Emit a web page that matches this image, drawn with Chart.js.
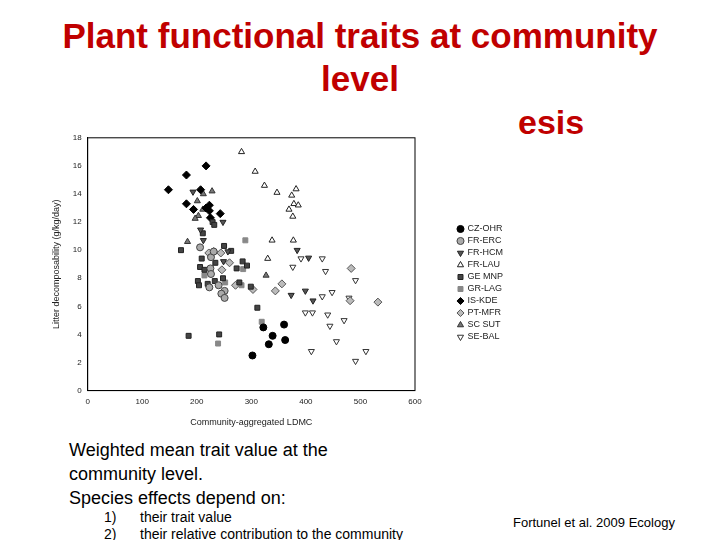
<!DOCTYPE html>
<html><head><meta charset="utf-8">
<script src="https://cdn.jsdelivr.net/npm/chart.js@4"></script>
<style>
body{margin:0;width:720px;height:540px;background:#fff;font-family:"Liberation Sans",Arial,sans-serif;position:relative;overflow:hidden}
#t{position:absolute;top:14px;left:0;width:720px;text-align:center;color:#c00000;font-weight:bold;font-size:35px;line-height:43px}
#esis{position:absolute;left:518px;top:103px;color:#c00000;font-weight:bold;font-size:34px}
#wrap{position:absolute;left:47px;top:130px;width:466px;height:302px}
#b{position:absolute;left:69px;top:438px;font-size:18px;line-height:24px;color:#000}
#l{position:absolute;left:104px;top:509px;font-size:14px;line-height:17px}
#l span{display:inline-block;width:36px}
#ref{position:absolute;left:513px;top:515px;font-size:13px}
</style></head><body>
<div id="t">Plant functional traits at community<br>level</div>
<div id="esis">esis</div>
<div id="wrap"><canvas id="c"></canvas></div>
<div id="b">Weighted mean trait value at the<br>community level.<br>Species effects depend on:</div>
<div id="l"><span>1)</span>their trait value<br><span>2)</span>their relative contribution to the community</div>
<div id="ref">Fortunel et al. 2009 Ecology</div>
<script>
const sites = ["CZ-OHR","FR-ERC","FR-HCM","FR-LAU","GE MNP","GR-LAG","IS-KDE","PT-MFR","SC SUT","SE-BAL"];
const czOhr = [[360,4.7],[322,4.5],[339,3.9],[362,3.6],[332,3.3],[302,2.5]];
const frErc = [[206,10.2],[226,9.5],[225,8.7],[226,8.3],[240,7.5],[223,7.35],[251,7.1],[245,6.9],[251,6.6],[231,9.9]];
const frHcm = [[193,14.15],[248,12.0],[207,11.45],[212,10.7],[257,9.9],[384,10.0],[405,9.45],[373,6.8],[413,6.4],[249,9.2],[399,7.1]];
const frLau = [[282,17.0],[307,15.6],[324,14.6],[347,14.1],[382,14.35],[374,13.9],[378,13.3],[386,13.2],[369,12.9],[376,12.4],[338,10.7],[377,10.7],[330,9.4]];
const geMnp = [[171,10.0],[229,12.0],[232,11.8],[211,11.2],[250,10.3],[263,9.95],[209,9.4],[234,9.1],[206,8.8],[214,8.6],[273,8.7],[284,9.2],[292,8.9],[202,7.8],[204,7.5],[220,7.6],[233,7.8],[248,8.0],[278,7.7],[299,7.4],[311,5.9],[185,3.9],[241,4.0]];
const grLag = [[289,10.7],[285,8.65],[252,7.7],[214,8.2],[319,4.9],[239,3.35],[282,7.5]];
const isKde = [[148,14.3],[181,15.35],[217,16.0],[207,14.3],[181,13.3],[194,12.9],[223,13.2],[223,12.8],[243,12.6],[217,13.0],[225,12.3]];
const ptMfr = [[244,9.8],[260,9.1],[246,8.6],[271,7.5],[303,7.2],[344,7.1],[356,7.6],[483,8.7],[481,6.4],[532,6.3],[231,9.9],[222,9.8]];
const scSut = [[228,14.2],[212,14.0],[201,13.5],[211,12.9],[203,12.45],[197,12.25],[183,10.6],[327,8.2]];
const seBal = [[376,8.8],[391,9.4],[430,9.4],[436,8.5],[491,7.85],[430,6.7],[448,7.0],[399,5.55],[412,5.55],[440,5.4],[444,4.6],[470,5.0],[456,3.5],[410,2.8],[510,2.8],[491,2.1],[479,6.6]];
const xTicks = [0,100,200,300,400,500,600];
const yTicks = [0,2,4,6,8,10,12,14,16,18];

const series = [czOhr,frErc,frHcm,frLau,geMnp,grLag,isKde,ptMfr,scSut,seBal];
const styles = [
 ["circle","#000","#000",0],["circle","#aaa","#444",0],["triangle","#555","#222",180],["triangle","#fff","#222",0],
 ["rect","#444","#222",0],["rect","#888","#888",0],["rectRot","#000","#000",0],["rectRot","#bbb","#555",0],
 ["triangle","#777","#333",0],["triangle","#fff","#333",180]];
const datasets = series.map((s,i)=>({
  label: sites[i], data: s.map(p=>({x:p[0],y:p[1]})),
  pointStyle: styles[i][0], backgroundColor: styles[i][1], borderColor: styles[i][2],
  rotation: styles[i][3], pointRadius: styles[i][0]=="rectRot"?4:3.5, borderWidth: 1
}));
const frame = {id:"frame", afterDraw(ch){const a=ch.chartArea,c=ch.ctx;c.save();c.strokeStyle="#000";c.lineWidth=1;c.strokeRect(a.left,a.top,a.right-a.left,a.bottom-a.top);c.restore();}};
// leave a gap between the plot and the legend
const legendGap = {id:"legendGap", beforeLayout(ch){const lg=ch.legend; if(!lg||lg._gapped) return; const f=lg.fit.bind(lg); lg.fit=function(){f(); this.width+=40;}; lg._gapped=true;},
  afterLayout(ch){const lg=ch.legend; lg.left+=40; lg.right+=40;}};
const tickFont = {family:"Liberation Sans",size:8};
new Chart(document.getElementById("c"),{
  type:"scatter", data:{datasets}, plugins:[frame,legendGap],
  options:{responsive:true,maintainAspectRatio:false,animation:false,
    layout:{padding:{top:4}},
    plugins:{legend:{position:"right",labels:{usePointStyle:true,boxWidth:5,boxHeight:5,padding:3,color:"#222",font:{family:"Liberation Sans",size:9}}},tooltip:{enabled:false}},
    scales:{
      x:{min:0,max:600,afterBuildTicks:a=>{a.ticks=xTicks.map(v=>({value:v}))},grid:{display:false,drawTicks:true,tickLength:3},border:{color:"#000"},ticks:{color:"#222",font:tickFont,maxRotation:0},
         title:{display:true,text:"Community-aggregated LDMC",color:"#222",font:{family:"Liberation Sans",size:9},padding:{top:8}}},
      y:{min:0,max:18,afterBuildTicks:a=>{a.ticks=yTicks.map(v=>({value:v}))},grid:{display:false,tickLength:3},border:{color:"#000"},ticks:{color:"#222",font:tickFont},
         title:{display:true,text:"Litter decomposability (g/kg/day)",color:"#222",font:{family:"Liberation Sans",size:9},padding:{bottom:8}}}
    }}
});
</script>
</body></html>
